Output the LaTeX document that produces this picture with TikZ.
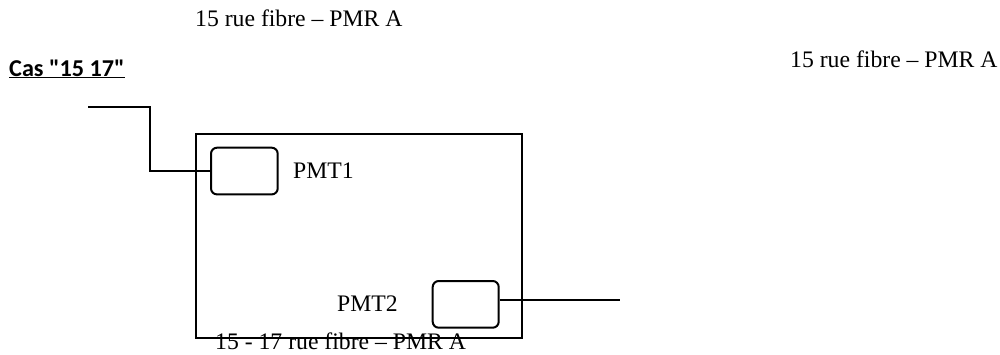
\documentclass[tikz,border=0pt]{standalone}
\usepackage{fontspec}
\setmainfont{Liberation Serif}
\newfontfamily\carl{Carlito}
\begin{document}
\begin{tikzpicture}[x=1pt,y=-1pt,
  txt/.style={anchor=base west,inner sep=0pt,font=\fontsize{23.7}{28}\selectfont},
  pmt/.style={draw,line width=2pt,rounded corners=6pt,inner sep=0pt},
  wire/.style={line width=2pt}]
\useasboundingbox (0,0) rectangle (1000,354);
\node[draw,line width=2pt,inner sep=0pt,minimum width=325.7pt,minimum height=203.4pt,anchor=north west] (site) at (195,133.3) {};
\node[pmt,minimum width=66.7pt,minimum height=46.7pt,anchor=north west] (p1) at (210,146.7) {};
\node[pmt,minimum width=66pt,minimum height=46.7pt,anchor=north west] (p2) at (431.7,280) {};
\coordinate (in) at (88,107.3);
\coordinate (out) at (620,299.5);
\draw[wire] (in) -- (149.5,107.3) |- (p1.west);
\draw[wire] (p2.east |- out) -- (out);
\node[txt] (t1) at (195,26.5) {15 rue fibre – PMR A};
\node[txt] (t2) at (790,67) {15 rue fibre – PMR A};
\node[anchor=base west,inner sep=0pt,font=\carl\bfseries\fontsize{24.2}{28}\selectfont] (cas) at (9,76) {\underline{Cas "15 17"}};
\node[txt] (l1) at (293,178.3) {PMT1};
\node[txt] (l2) at (337,311.7) {PMT2};
\node[txt] (l3) at (215,349.5) {15 - 17 rue fibre – PMR A};
\end{tikzpicture}
\end{document}
